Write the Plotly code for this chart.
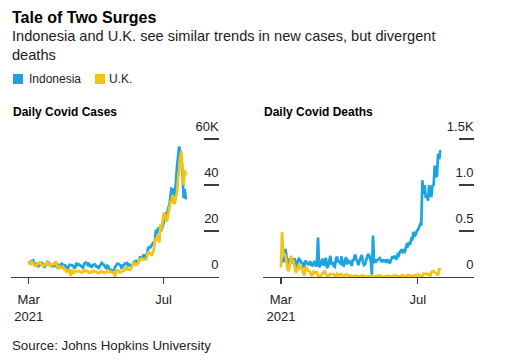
import plotly.graph_objects as go
import pandas as pd

# ---------------- data (daily, 2021-03-01 .. 2021-07-21) ----------------
START_DATE = "2021-03-01"
END_DATE = "2021-07-21"

ID_CASES = [
    # Mar
    6680, 5712, 6808, 6925, 7264, 5767, 4714, 5589, 5233, 4720, 5254, 5389, 6049, 5563, 3962, 5267,
    5338, 6570, 6312, 5379, 5297, 4670, 4766, 5625, 4982, 5847, 5402, 5285, 4441, 5311, 6097,
    # Apr
    4846, 4906, 5094, 3966, 3369, 4549, 5325, 5224, 5041, 4966, 4050, 4123, 5656, 5218, 5656,
    5228, 5089, 4236, 4059, 5549, 6177, 6243, 5436, 6228, 4881, 4952, 4127, 5241, 5444, 5444,
    # May
    4512, 4585, 3689, 4369, 5285, 6130, 5647, 5313, 4417, 3922, 4891, 4608, 2633, 3448, 2385, 2662,
    3080, 4176, 4871, 5797, 5746, 5296, 4989, 3556, 4973, 5060, 5862, 5828, 6030, 5033, 5418,
    # Jun
    4824, 5246, 5353, 6486, 6594, 6993, 6293, 6294, 7725, 8892, 8083, 8048, 9868, 8189, 8161,
    9944, 12624, 12990, 12906, 13737, 14536, 13668, 15308, 20574, 18872, 21095, 21342, 20694, 20467, 21807,
    # Jul
    24836, 25830, 27913, 27233, 29745, 31189, 34379, 38391, 38124, 35094, 36197, 40427, 47899, 54517,
    56757, 54000, 51952, 44721, 34257, 38325, 33772,
]

UK_CASES = [
    # Mar
    5455, 6385, 5766, 6573, 6040, 5177, 5177, 4712, 5766, 5926, 6609, 5534, 5534, 4618, 5089, 5294,
    5758, 6303, 5260, 5587, 4802, 5342, 5379, 5605, 6397, 6187, 3862, 3862, 4654, 4040, 4052,
    # Apr
    4479, 3402, 3423, 2297, 2762, 2379, 2763, 400, 3150, 1730, 1730, 2589, 2472, 2491, 2672,
    2596, 2206, 1882, 2524, 2963, 2396, 2729, 2615, 2174, 1712, 2064, 2524, 2166, 2655, 2445,
    # May
    2190, 1649, 1671, 1946, 2613, 2490, 2047, 2047, 1770, 2357, 2284, 2657, 2193, 2371, 2027, 1926,
    1979, 200, 2874, 2696, 2829, 2051, 1979, 2439, 2493, 2613, 3542, 4182, 3398, 3240, 3383,
    # Jun
    3165, 4330, 5274, 6238, 5765, 5341, 5683, 6048, 7540, 7393, 8125, 7738, 7490, 7673, 7673,
    9055, 11007, 10476, 10321, 9284, 10633, 11625, 16135, 16703, 15810, 18270, 14876, 22868, 20479, 26068,
    # Jul
    27989, 27125, 24885, 24248, 27334, 28773, 32548, 32551, 35707, 32367, 31772, 34471, 36660, 42302,
    48553, 51870, 54674, 48161, 39950, 46558, 44104,
]

ID_DEATHS = [
    # Mar
    159, 192, 162, 200, 305, 188, 141, 150, 204, 180, 170, 147, 204, 131, 107, 176,
    199, 186, 150, 164, 102, 124, 178, 157, 140, 131, 172, 131, 125, 146, 175,
    # Apr
    113, 140, 430, 106, 127, 163, 200, 124, 148, 210, 99, 116, 183, 230, 136,
    162, 121, 112, 200, 220, 158, 176, 139, 225, 128, 125, 180, 215, 135, 190,
    # May
    150, 175, 120, 185, 190, 245, 200, 170, 130, 175, 215, 240, 165, 130, 140, 195,
    230, 250, 200, 180, 25, 450, 150, 190, 170, 180, 195, 205, 185, 160, 190,
    # Jun
    174, 180, 155, 190, 170, 150, 185, 215, 210, 230, 205, 190, 245, 235, 275,
    290, 275, 300, 260, 310, 350, 340, 380, 350, 410, 400, 490, 440, 460, 500,
    # Jul
    510, 540, 570, 560, 1050, 900, 1000, 860, 880, 830, 1000, 900, 870, 1000,
    990, 1210, 1100, 1090, 1340, 1280, 1380,
]

UK_DEATHS = [
    # Mar
    104, 490, 260, 242, 236, 158, 82, 65, 190, 231, 175, 175, 121, 52, 64, 110,
    141, 95, 101, 96, 33, 17, 112, 98, 70, 63, 58, 19, 23, 56, 43,
    # Apr
    52, 51, 10, 10, 10, 20, 45, 53, 60, 34, 7, 13, 23, 33, 30,
    34, 32, 10, 4, 33, 22, 29, 18, 32, 17, 11, 17, 29, 24, 15,
    # May
    4, 15, 1, 4, 14, 11, 13, 2, 4, 11, 14, 11, 17, 7, 4, 4,
    5, 7, 9, 9, 10, 12, 5, 1, 14, 9, 10, 17, 6, 0, 1,
    # Jun
    3, 12, 10, 11, 13, 4, 6, 13, 7, 11, 17, 12, 8, 3, 9,
    19, 19, 11, 14, 6, 5, 23, 19, 21, 14, 11, 3, 22, 22, 14,
    # Jul
    27, 18, 15, 9, 9, 37, 33, 35, 34, 34, 25, 6, 50, 63,
    63, 49, 41, 25, 19, 96, 73,
]

SERIES_NAMES = ["Indonesia", "U.K."]
X_TICK_VALS = ["2021-03-01", "2021-07-01"]
X_TICK_TEXT = ["Mar<br>2021", "Jul"]
CASES_TICK_VALS = [0, 20000, 40000, 60000]
CASES_TICK_TEXT = ["0", "20", "40", "60K"]
DEATHS_TICK_VALS = [0, 500, 1000, 1500]
DEATHS_TICK_TEXT = ["0", "0.5", "1.0", "1.5K"]
CASES_TOP = 60000
DEATHS_TOP = 1500

TITLE = "Tale of Two Surges"
SUBTITLE = "Indonesia and U.K. see similar trends in new cases, but divergent<br>deaths"
PANEL_TITLES = ["Daily Covid Cases", "Daily Covid Deaths"]
SOURCE = "Source: Johns Hopkins University"

# ---------------- styling ----------------
W, H = 505, 363
BLUE = "#1ba3e2"
YELLOW = "#f4c316"
AX = "#3c3c3c"
FONT = "Liberation Sans, Arial, sans-serif"

Y_ZERO_PX = 277     # pixel row of the zero baseline
Y_TOPTICK_PX = 139  # pixel row of the top tick
Y_DOMAIN_TOP_PX = 112  # plot area extended above the top tick so labels stay visible


def px(x):
    return x / W


def py(y):
    return 1 - y / H


ext = (Y_ZERO_PX - Y_DOMAIN_TOP_PX) / (Y_ZERO_PX - Y_TOPTICK_PX)

dates = pd.date_range(START_DATE, END_DATE, freq="D")

fig = go.Figure()
colors = [BLUE, YELLOW]
for i, (name, ys) in enumerate(zip(SERIES_NAMES, [ID_CASES, UK_CASES])):
    fig.add_trace(go.Scatter(x=dates, y=ys, name=name, mode="lines",
                             line=dict(color=colors[i], width=2.7),
                             xaxis="x", yaxis="y", showlegend=False))
for i, (name, ys) in enumerate(zip(SERIES_NAMES, [ID_DEATHS, UK_DEATHS])):
    fig.add_trace(go.Scatter(x=dates, y=ys, name=name, mode="lines",
                             line=dict(color=colors[i], width=2.7),
                             xaxis="x2", yaxis="y2", showlegend=False))

x_range = ["2021-02-13", "2021-08-20"]
ydom = [py(Y_ZERO_PX), py(Y_DOMAIN_TOP_PX)]

common_x = dict(range=x_range, tickvals=X_TICK_VALS, ticktext=X_TICK_TEXT,
                ticks="outside", ticklen=6, tickwidth=1.2, tickcolor=AX,
                ticklabelstandoff=4,
                showline=True, linecolor=AX, linewidth=1.3, showgrid=False,
                zeroline=False, tickfont=dict(family=FONT, size=13, color="#222"),
                fixedrange=True)
common_y = dict(side="right", ticks="inside", ticklen=15, tickwidth=1.3,
                tickcolor=AX, ticklabelposition="inside", ticklabelshift=-13,
                ticklabelstandoff=-15, showgrid=False, zeroline=False,
                showline=False, tickfont=dict(family=FONT, size=13, color="#222"),
                fixedrange=True)

fig.update_layout(
    width=W, height=H,
    margin=dict(l=0, r=0, t=0, b=0),
    paper_bgcolor="white", plot_bgcolor="rgba(0,0,0,0)",
    font=dict(family=FONT, color="#111"),
    xaxis=dict(domain=[px(11), px(219)], anchor="y", **common_x),
    yaxis=dict(domain=ydom, anchor="x", range=[0, CASES_TOP * ext],
               tickvals=CASES_TICK_VALS, ticktext=CASES_TICK_TEXT, **common_y),
    xaxis2=dict(domain=[px(263), px(474)], anchor="y2", **common_x),
    yaxis2=dict(domain=ydom, anchor="x2", range=[0, DEATHS_TOP * ext],
                tickvals=DEATHS_TICK_VALS, ticktext=DEATHS_TICK_TEXT, **common_y),
    showlegend=False,
    hovermode=False,
)

ann = []
ann.append(dict(text="<b>" + TITLE + "</b>", x=px(10), y=py(17), xanchor="left", yanchor="middle",
                font=dict(family=FONT, size=16, color="#000")))
ann.append(dict(text=SUBTITLE, x=px(10), y=py(46), xanchor="left", yanchor="middle", align="left",
                font=dict(family=FONT, size=14.6, color="#222")))
# legend labels
ann.append(dict(text=SERIES_NAMES[0], x=px(27), y=py(79), xanchor="left", yanchor="middle",
                font=dict(family=FONT, size=12, color="#222")))
ann.append(dict(text=SERIES_NAMES[1], x=px(107), y=py(79), xanchor="left", yanchor="middle",
                font=dict(family=FONT, size=12, color="#222")))
ann.append(dict(text="<b>" + PANEL_TITLES[0] + "</b>", x=px(11), y=py(112), xanchor="left",
                yanchor="middle", font=dict(family=FONT, size=12, color="#000")))
ann.append(dict(text="<b>" + PANEL_TITLES[1] + "</b>", x=px(262), y=py(112), xanchor="left",
                yanchor="middle", font=dict(family=FONT, size=12, color="#000")))
ann.append(dict(text=SOURCE, x=px(10), y=py(345), xanchor="left", yanchor="middle",
                font=dict(family=FONT, size=13.3, color="#222")))
for a in ann:
    a.update(xref="paper", yref="paper", showarrow=False)
fig.update_layout(annotations=ann)

shapes = [
    dict(type="rect", xref="paper", yref="paper", x0=px(13), x1=px(23), y0=py(84), y1=py(74),
         fillcolor=BLUE, line=dict(width=0)),
    dict(type="rect", xref="paper", yref="paper", x0=px(95), x1=px(105), y0=py(84), y1=py(74),
         fillcolor=YELLOW, line=dict(width=0)),
]
fig.update_layout(shapes=shapes)

fig.write_html("out.html", config={"displayModeBar": False, "staticPlot": True},
               post_script="document.body.style.margin='0px';document.body.style.overflow='hidden';")
